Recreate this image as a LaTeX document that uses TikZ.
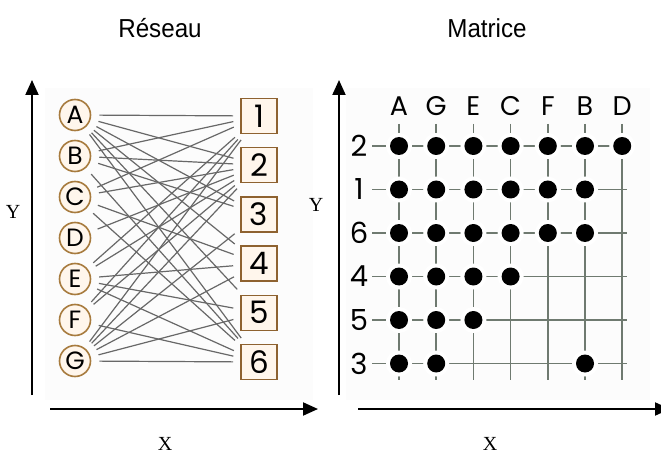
\documentclass[tikz,border=0pt]{standalone}
\usepackage{fontspec}
\setmainfont{Liberation Serif}
\newfontfamily\titlefont[FakeStretch=0.93]{Liberation Sans}
\newfontfamily\geofont{Poppins}
\usetikzlibrary{arrows.meta}
\definecolor{ringc}{HTML}{A77B3E}
\definecolor{boxc}{HTML}{8E6230}
\definecolor{paper}{HTML}{FFF6EC}
\definecolor{edgec}{HTML}{686868}
\definecolor{gridc}{HTML}{6F7A70}
\definecolor{panel}{HTML}{FCFCFC}
\begin{document}
\begin{tikzpicture}[x=1pt,y=-1pt,
  axis/.style={line width=2pt,-{Triangle[length=15pt,width=13pt]}},
  title/.style={font=\titlefont\fontsize{26}{30}\selectfont,anchor=base},
  axlabel/.style={font=\fontsize{20}{24}\selectfont,inner sep=1pt},
  ring/.style={circle,draw=ringc,fill=paper,line width=1.6pt,minimum size=31pt,inner sep=0pt,font=\geofont\fontsize{25}{26}\selectfont},
  numbox/.style={rectangle,draw=boxc,fill=paper,line width=1.6pt,minimum width=36pt,minimum height=35pt,inner sep=0pt,font=\geofont\fontsize{31}{32}\selectfont},
  edge/.style={draw=edgec,line width=1.2pt,shorten <=8pt,shorten >=7pt},
  gridline/.style={draw=gridc,line width=1.7pt},
  halo/.style={circle,fill=white,minimum size=26pt,inner sep=0pt},
  dot/.style={circle,fill=black,minimum size=18pt,inner sep=0pt},
  collab/.style={font=\geofont\fontsize{27}{28}\selectfont},
  rowlab/.style={font=\geofont\fontsize{29}{30}\selectfont}]
\useasboundingbox (0,0) rectangle (661,457);
% light panels
\fill[panel] (45,88) rectangle (313,400);
\fill[panel] (346,88) rectangle (650,400);
% titles
\node[title] (t1) at (160,38) {Réseau};
\node[title] (t2) at (487,38) {Matrice};
% axes
\coordinate (ly0) at (32,395); \coordinate (ly1) at (32,80);
\coordinate (lx0) at (50,409); \coordinate (lx1) at (318,409);
\coordinate (ry0) at (339,395); \coordinate (ry1) at (339,80);
\coordinate (rx0) at (358,409); \coordinate (rx1) at (670,409);
\draw[axis] (ly0) -- (ly1);
\draw[axis] (lx0) -- (lx1);
\draw[axis] (ry0) -- (ry1);
\draw[axis] (rx0) -- (rx1);
\node[axlabel] (yl) at (13,212) {Y};
\node[axlabel] (xl) at (165,444) {X};
\node[axlabel] (yr) at (316,205) {Y};
\node[axlabel] (xr) at (490,444) {X};
% network nodes
\foreach \l [count=\i from 0] in {A,B,C,D,E,F,G}
  \node[ring] (\l) at (75,115+41*\i) {\l};
\foreach \n [count=\i from 0] in {1,...,6}
  \node[numbox] (n\n) at (259,116+49.2*\i) {\n};
% network edges
\foreach \a/\b in {A/1,A/2,A/3,A/4,A/5,A/6,
                   G/1,G/2,G/3,G/4,G/5,G/6,
                   E/1,E/2,E/4,E/5,E/6,
                   C/1,C/2,C/4,C/6,
                   F/1,F/2,F/6,
                   B/1,B/2,B/3,B/6,
                   D/2}
  \draw[edge] (\a) -- (n\b);
% matrix labels
\foreach \l [count=\i from 0] in {A,G,E,C,F,B,D}
  \node[collab] (c\l) at (399+37.2*\i,106) {\l};
\foreach \r [count=\j from 0] in {2,1,6,4,5,3}
  \node[rowlab] (r\r) at (359,146+43.5*\j) {\r};
% grid
\foreach \j in {0,...,5}
  \draw[gridline] (372,146+43.5*\j) -- (627,146+43.5*\j);
\foreach \i in {0,...,6}
  \draw[gridline] (399+37.2*\i,124) -- (399+37.2*\i,380);
% dots (column index / row index)
\foreach \i/\j in {0/0,1/0,2/0,3/0,4/0,5/0,6/0,
                   0/1,1/1,2/1,3/1,4/1,5/1,
                   0/2,1/2,2/2,3/2,4/2,5/2,
                   0/3,1/3,2/3,3/3,
                   0/4,1/4,2/4,
                   0/5,1/5,5/5}
  {\node[halo] (h\i-\j) at (399+37.2*\i,146+43.5*\j) {};
   \node[dot] (d\i-\j) at (h\i-\j) {};}
\end{tikzpicture}
\end{document}
